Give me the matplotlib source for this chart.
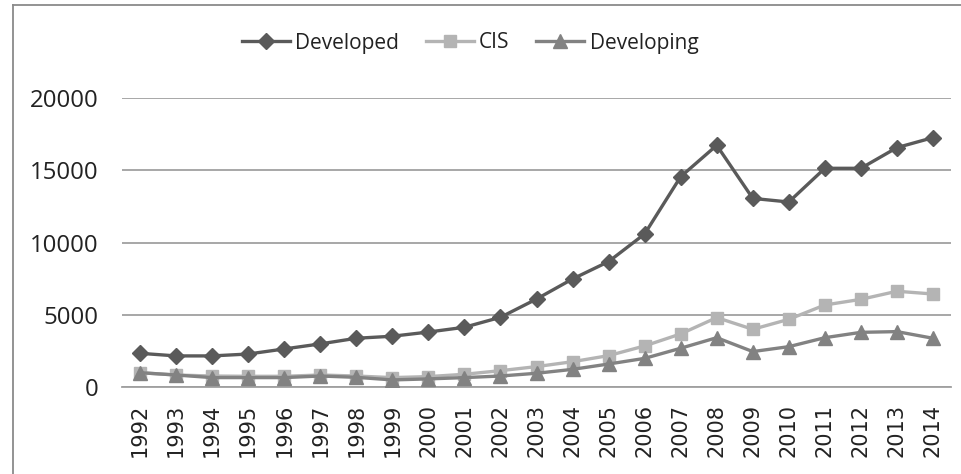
import matplotlib
matplotlib.use("Agg")
import matplotlib.pyplot as plt
from matplotlib.lines import Line2D

years = [str(y) for y in range(1992, 2015)]
developed = [2350, 2170, 2170, 2300, 2650, 3000, 3390, 3530, 3820, 4150, 4840,
             6100, 7490, 8690, 10600, 14560, 16730, 13060, 12810, 15140, 15140, 16570, 17260]
cis = [1010, 850, 780, 760, 760, 850, 780, 670, 740, 900, 1150,
       1430, 1770, 2190, 2860, 3690, 4820, 4010, 4700, 5690, 6080, 6640, 6450]
developing = [1010, 850, 670, 670, 670, 780, 690, 510, 580, 670, 780,
              970, 1240, 1610, 2000, 2700, 3430, 2470, 2810, 3430, 3800, 3850, 3390]
yticks = [0, 5000, 10000, 15000, 20000]

W, H = 962, 474
fig = plt.figure(figsize=(W / 100, H / 100), dpi=100)
ax = fig.add_axes([122 / W, (H - 387.3) / H, (951 - 122) / W, (387.3 - 98) / H])

x = list(range(len(years)))
ax.plot(x, developed, color="#5a5a5a", lw=2.4, marker="D", ms=8.5, label="Developed", zorder=3)
ax.plot(x, cis, color="#b4b4b4", lw=2.4, marker="s", ms=9, label="CIS", zorder=2)
ax.plot(x, developing, color="#828282", lw=2.4, marker="^", ms=10, label="Developing", zorder=4)

ax.set_xlim(-0.5, len(years) - 0.5)
ax.set_ylim(0, 20000)
ax.set_yticks(yticks)
ax.set_yticklabels([str(v) for v in yticks], fontfamily="Open Sans", fontsize=17.3, color="#222222")
ax.set_xticks(x)
ax.set_xticklabels(years, rotation=90, fontfamily="DejaVu Sans", fontsize=15, color="#222222")
ax.tick_params(axis="y", length=0, pad=17)
ax.tick_params(axis="x", length=0, pad=12)
ax.grid(axis="y", color="#a0a0a0", lw=1.3)
ax.set_axisbelow(True)
for s in ["top", "left", "right"]:
    ax.spines[s].set_visible(False)
ax.spines["bottom"].set_color("#a0a0a0")
ax.spines["bottom"].set_linewidth(1.3)

leg = fig.legend(loc="center", bbox_to_anchor=(470 / W, 1 - 43 / H), ncol=3, frameon=False,
                 prop={"family": "Open Sans", "size": 15}, handlelength=2.3,
                 handletextpad=0.25, columnspacing=1.3, borderaxespad=0)
for t in leg.get_texts():
    t.set_color("#222222")

# chart area border (top and left visible)
fig.add_artist(Line2D([12.5 / W, 12.5 / W], [0, 1 - 4.7 / H], transform=fig.transFigure, color="#8a8a8a", lw=1.3))
fig.add_artist(Line2D([12.5 / W, 1], [1 - 4.7 / H, 1 - 4.7 / H], transform=fig.transFigure, color="#8a8a8a", lw=1.3))

fig.savefig("out.png", dpi=100)
